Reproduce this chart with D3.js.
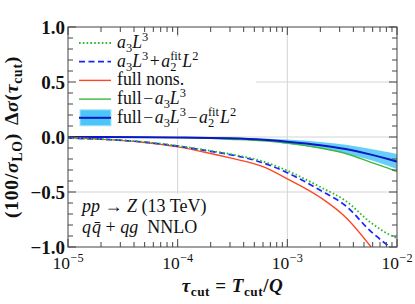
<!DOCTYPE html>
<html>
<head>
<meta charset="utf-8">
<script src="https://cdn.jsdelivr.net/npm/d3@7"></script>
<style>
  body { margin: 0; background: #fff; }
  text { font-family: "Liberation Serif", "Times New Roman", serif; fill: #111; white-space: pre; }
</style>
</head>
<body>
<svg id="chart" width="415" height="304"></svg>
<script>
// tau_cut sample points
const tau = [1e-5, 2e-5, 5e-5, 1e-4, 2e-4, 3e-4, 6e-4, 1e-3, 2e-3, 3.4e-3, 5.8e-3, 8.6e-3, 1e-2];

// lower group (power corrections)
const a3L3      = [-0.01, -0.02, -0.045, -0.08, -0.125, -0.155, -0.222, -0.306, -0.455, -0.58, -0.78, -0.89, -0.92];
const a3L3a2L2  = [-0.01, -0.02, -0.047, -0.083, -0.13, -0.16, -0.235, -0.325, -0.485, -0.625, -0.86, -1.0, null];
const fullNons  = [-0.005, -0.02, -0.05, -0.09, -0.15, -0.19, -0.27, -0.38, -0.55, -0.73, -1.0, null, null];

// upper group (subtracted)
const fullMinusA3   = [0, 0, -0.003, -0.006, -0.012, -0.02, -0.035, -0.055, -0.1, -0.15, -0.23, -0.29, -0.315];
const fullMinusBoth = [0, 0, -0.002, -0.005, -0.008, -0.012, -0.025, -0.043, -0.075, -0.11, -0.16, -0.205, -0.224];
const bandLo        = [-0.006, -0.006, -0.007, -0.01, -0.014, -0.02, -0.037, -0.063, -0.105, -0.15, -0.212, -0.269, -0.294];
const bandHi        = [0.006, 0.006, 0.003, 0.0, -0.002, -0.004, -0.013, -0.023, -0.045, -0.07, -0.108, -0.141, -0.154];

const yTicks = [1.0, 0.5, 0.0, -0.5, -1.0];
const yTickLabels = ["1.0", "0.5", "0.0", "\u22120.5", "\u22121.0"];
const xDecades = [1e-5, 1e-4, 1e-3, 1e-2];
const xExps = ["\u22125", "\u22124", "\u22123", "\u22122"];

const width = 415, height = 304;
const margin = {top: 27, right: 18, bottom: 57, left: 68};

const svg = d3.select("#chart");

const x = d3.scaleLog().domain([1e-5, 1e-2]).range([margin.left, width - margin.right]);
const y = d3.scaleLinear().domain([-1, 1]).range([height - margin.bottom, margin.top]);

// draws a run of math-ish text; parts: {t, i, pos:'sub'|'sup', stack, dx}
function mathText(g, x0, y0, parts, fs, weight, ls) {
  let cx = x0, stackStart = x0;
  parts.forEach(p => {
    const size = p.pos ? fs * 0.7 : fs;
    const dy = p.pos === 'sub' ? fs * 0.22 : p.pos === 'sup' ? -fs * 0.38 : 0;
    const px = (p.stack ? stackStart : cx) + (p.dx || 0);
    const t = g.append("text")
      .attr("x", px).attr("y", y0 + dy)
      .attr("font-size", size)
      .attr("font-style", p.i ? "italic" : "normal")
      .attr("font-weight", weight || "normal")
      .attr("letter-spacing", ls || 0)
      .text(p.t);
    const w = t.node().getComputedTextLength() + (p.dx || 0);
    if (p.stack) {
      cx = Math.max(cx, stackStart + w);
    } else {
      stackStart = px;
      cx += w;
    }
  });
  return cx - x0;
}

// grid
const grid = svg.append("g").attr("stroke", "#d4d4d4").attr("stroke-width", 1);
grid.selectAll(".gx").data([1e-4, 1e-3]).enter().append("line")
  .attr("x1", d => x(d)).attr("x2", d => x(d))
  .attr("y1", y(1)).attr("y2", y(-1));
grid.selectAll(".gy").data([0.5, 0, -0.5]).enter().append("line")
  .attr("x1", x(1e-5)).attr("x2", x(1e-2))
  .attr("y1", d => y(d)).attr("y2", d => y(d));

svg.append("clipPath").attr("id", "clip").append("rect")
  .attr("x", margin.left).attr("y", margin.top)
  .attr("width", width - margin.left - margin.right)
  .attr("height", height - margin.top - margin.bottom);

const plot = svg.append("g").attr("clip-path", "url(#clip)");

const idx = d3.range(tau.length);
const line = arr => d3.line()
  .defined(i => arr[i] !== null)
  .x(i => x(tau[i])).y(i => y(arr[i]))
  .curve(d3.curveMonotoneX)(idx);

plot.append("path")
  .attr("d", d3.area().x(i => x(tau[i])).y0(i => y(bandLo[i])).y1(i => y(bandHi[i]))
    .curve(d3.curveMonotoneX)(idx))
  .attr("fill", "#4cc6f7").attr("fill-opacity", 0.85);

const series = [
  {data: fullMinusA3, color: "#3cb83c", w: 1.4, dash: null},
  {data: fullMinusBoth, color: "#0b16c8", w: 2, dash: null},
  {data: fullNons, color: "#ff4524", w: 1.4, dash: null},
  {data: a3L3a2L2, color: "#1a22ff", w: 1.7, dash: "6,3.5"},
  {data: a3L3, color: "#2eb82e", w: 1.8, dash: "1.6,2.2"}
];
series.forEach(s => {
  plot.append("path").attr("d", line(s.data))
    .attr("fill", "none").attr("stroke", s.color)
    .attr("stroke-width", s.w).attr("stroke-dasharray", s.dash);
});

// legend
svg.append("rect").attr("x", 70).attr("y", 37).attr("width", 186).attr("height", 91).attr("fill", "#fff");
const leg = svg.append("g");
const legY = d => 43 + d * 18.7;
const legItems = [
  {color: "#2eb82e", w: 1.8, dash: "1.6,2.2",
   parts: [{t: "a", i: 1}, {t: "3", pos: "sub"}, {t: "L", i: 1}, {t: "3", pos: "sup"}]},
  {color: "#1a22ff", w: 1.7, dash: "6,3.5",
   parts: [{t: "a", i: 1}, {t: "3", pos: "sub"}, {t: "L", i: 1}, {t: "3", pos: "sup"}, {t: "+", dx: 1.5},
           {t: "a", i: 1, dx: 1.5}, {t: "fit", pos: "sup"}, {t: "2", pos: "sub", stack: 1}, {t: "L", i: 1, dx: 1}, {t: "2", pos: "sup"}]},
  {color: "#ff4524", w: 1.4, dash: null, parts: [{t: "full nons."}]},
  {color: "#3cb83c", w: 1.4, dash: null,
   parts: [{t: "full"}, {t: "\u2212", dx: 1.5}, {t: "a", i: 1, dx: 1.5}, {t: "3", pos: "sub"}, {t: "L", i: 1}, {t: "3", pos: "sup"}]},
  {color: "#0b16c8", w: 2, dash: null, band: true,
   parts: [{t: "full"}, {t: "\u2212", dx: 1.5}, {t: "a", i: 1, dx: 1.5}, {t: "3", pos: "sub"}, {t: "L", i: 1}, {t: "3", pos: "sup"},
           {t: "\u2212", dx: 1.5}, {t: "a", i: 1, dx: 1.5}, {t: "fit", pos: "sup"}, {t: "2", pos: "sub", stack: 1}, {t: "L", i: 1, dx: 1}, {t: "2", pos: "sup"}]}
];
legItems.forEach((d, k) => {
  const yy = legY(k);
  if (d.band) {
    leg.append("rect").attr("x", 80).attr("y", yy - 8).attr("width", 31).attr("height", 16)
      .attr("fill", "#4cc6f7").attr("stroke", "#a8e2fb").attr("stroke-width", 1);
  }
  leg.append("line").attr("x1", 79).attr("x2", 111).attr("y1", yy).attr("y2", yy)
    .attr("stroke", d.color).attr("stroke-width", d.w).attr("stroke-dasharray", d.dash);
  mathText(leg, 117, yy + 5, d.parts, 17.8);
});

// annotation
svg.append("rect").attr("x", 70).attr("y", 193.5).attr("width", 160).attr("height", 51).attr("fill", "#fff");
const ann = svg.append("g");
mathText(ann, 82, 212, [{t: "pp", i: 1}, {t: " \u2192 "}, {t: "Z", i: 1}, {t: " (13 TeV)"}], 18);
mathText(ann, 82, 233, [{t: "q", i: 1}, {t: "q\u0304", i: 1, dx: 1}, {t: " + "}, {t: "qg", i: 1}, {t: "  NNLO"}], 18);

// ticks
const ticks = svg.append("g").attr("stroke", "#444").attr("stroke-width", 1);
const yMinor = d3.range(-10, 11).map(v => v / 10);
yMinor.forEach(v => {
  const major = Math.abs(v * 2 - Math.round(v * 2)) < 1e-6;
  const len = major ? 8 : 5;
  ticks.append("line").attr("x1", x(1e-5)).attr("x2", x(1e-5) + len).attr("y1", y(v)).attr("y2", y(v));
  ticks.append("line").attr("x1", x(1e-2)).attr("x2", x(1e-2) - len).attr("y1", y(v)).attr("y2", y(v));
});
x.ticks().forEach(v => {
  const lg = Math.log10(v);
  const major = Math.abs(lg - Math.round(lg)) < 1e-6;
  const len = major ? 8 : 5;
  ticks.append("line").attr("x1", x(v)).attr("x2", x(v)).attr("y1", y(-1)).attr("y2", y(-1) - len);
  ticks.append("line").attr("x1", x(v)).attr("x2", x(v)).attr("y1", y(1)).attr("y2", y(1) + len);
});

svg.append("rect").attr("x", margin.left).attr("y", margin.top)
  .attr("width", width - margin.left - margin.right)
  .attr("height", height - margin.top - margin.bottom)
  .attr("fill", "none").attr("stroke", "#444").attr("stroke-width", 1);

// tick labels
svg.append("g").selectAll("text").data(yTicks).enter().append("text")
  .attr("x", margin.left - 3).attr("y", d => y(d)).attr("dy", "0.36em")
  .attr("text-anchor", "end").attr("font-size", 19).attr("font-weight", "bold")
  .text((d, i) => yTickLabels[i]);

xDecades.forEach((v, i) => {
  const g = svg.append("g");
  const w = mathText(g, 0, 269, [{t: "10"}, {t: xExps[i], pos: "sup", dx: 0.5}], 17.5);
  g.attr("transform", `translate(${x(v) - w / 2},0)`);
});

// axis titles
const xt = svg.append("g");
const xw = mathText(xt, 0, 292, [{t: "\u03c4", i: 1}, {t: "cut", pos: "sub"}, {t: " = "}, {t: "T", i: 1},
  {t: "cut", pos: "sub"}, {t: "/"}, {t: "Q", i: 1}], 19, "bold", 0.5);
xt.attr("transform", `translate(${(x(1e-5) + x(1e-2)) / 2 - xw / 2},0)`);

const yt = svg.append("g");
const ytInner = yt.append("g");
const yw = mathText(ytInner, 0, 0, [{t: "(100/"}, {t: "\u03c3", i: 1}, {t: "LO", pos: "sub"}, {t: ")"},
  {t: "\u0394", dx: 8}, {t: "\u03c3", i: 1}, {t: "("}, {t: "\u03c4", i: 1}, {t: "cut", pos: "sub"}, {t: ")"}], 19.5, "bold", 0.8);
ytInner.attr("transform", `translate(${-yw / 2},0)`);
yt.attr("transform", `translate(18,137) rotate(-90)`);
</script>
</body>
</html>
